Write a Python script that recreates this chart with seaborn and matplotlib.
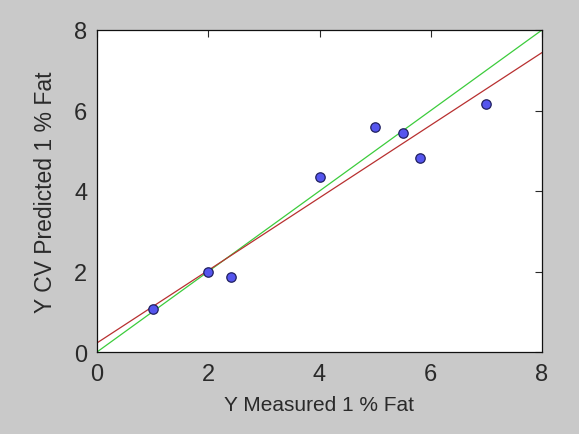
import matplotlib
matplotlib.use("Agg")
import matplotlib.pyplot as plt
import seaborn as sns
import pandas as pd

measured = [1.0, 2.0, 2.4, 4.0, 5.0, 5.5, 5.8, 7.0]
predicted = [1.08, 2.0, 1.86, 4.34, 5.58, 5.45, 4.83, 6.15]
identity = [0, 8]
ticks = [0, 2, 4, 6, 8]

df = pd.DataFrame({"measured": measured, "predicted": predicted})

sns.set_style("white")
plt.rcParams["font.family"] = ["Liberation Sans", "DejaVu Sans"]

fig = plt.figure(figsize=(5.79, 4.35), dpi=100, facecolor="#c9c9c9")
ax = fig.add_axes([97/579, 1-353/435, (542-97)/579, (353-31)/435])
ax.set_facecolor("white")
ax.set_xlim(0, 8)
ax.set_ylim(0, 8)

sns.lineplot(x=identity, y=identity, ax=ax, color="#3ccc3c", linewidth=0.9)
sns.regplot(data=df, x="measured", y="predicted", ax=ax, ci=None, truncate=False,
            scatter_kws=dict(s=46, color="#5555ee", edgecolor="#202060", linewidths=0.9, alpha=1, zorder=3),
            line_kws=dict(color="#b83030", linewidth=0.9))

ax.set_xlim(0, 8)
ax.set_ylim(0, 8)
ax.set_xticks(ticks)
ax.set_yticks(ticks)
ax.tick_params(direction="in", top=True, right=True, length=5, width=0.8,
               labelsize=17, colors="#2a2a2a")
ax.tick_params(axis="x", pad=8)
ax.tick_params(axis="y", pad=7)
for s in ax.spines.values():
    s.set_visible(True)
    s.set_color("#111111")
    s.set_linewidth(0.9)
ax.set_xlabel("Y Measured 1 % Fat", fontsize=15, color="#2a2a2a", labelpad=7)
ax.set_ylabel("Y CV Predicted 1 % Fat", fontsize=16.5, color="#2a2a2a", labelpad=12)

fig.savefig("out.png", dpi=100, facecolor=fig.get_facecolor())
